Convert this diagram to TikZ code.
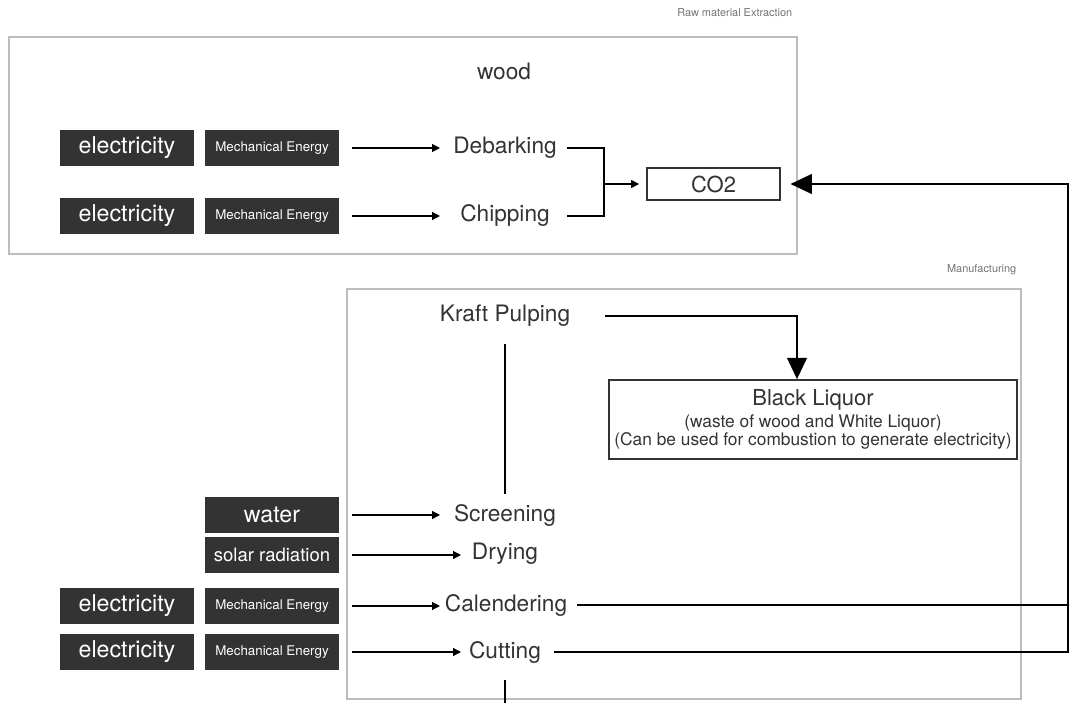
\documentclass[tikz,border=0pt]{standalone}
\usepackage{fontspec}
\setmainfont{TeX Gyre Heros}
\usepackage{xcolor}
\usetikzlibrary{arrows.meta,positioning}
\definecolor{ink}{HTML}{333333}
\definecolor{framegray}{HTML}{BDBDBD}

\begin{document}
\begin{tikzpicture}[
    x=0.75pt, y=-0.75pt,
    font=\fontsize{17}{19}\selectfont,
    text=ink,
    frame/.style={draw=framegray, line width=0.8pt},
    darkbox/.style={
        rectangle,
        fill=ink,
        text=white,
        minimum width=100.5pt,
        minimum height=27pt,
        inner sep=0pt
    },
    smallbox/.style={darkbox, font=\fontsize{10}{11}\selectfont},
    bigbox/.style={darkbox, font=\fontsize{17.4}{19}\selectfont},
    proc/.style={inner sep=0pt, font=\fontsize{17}{19}\selectfont},
    tag/.style={font=\fontsize{8.2}{9}\selectfont, text=black!55, anchor=east},
    result/.style={
        rectangle,
        draw=ink,
        line width=1.6pt,
        align=center,
        inner sep=0pt
    },
    line/.style={draw=black, line width=0.9pt},
    flow/.style={line, -{Triangle[length=6pt,width=6pt]}},
    bigflow/.style={line, -{Triangle[length=16pt,width=15pt]}}
]
\useasboundingbox (0,0) rectangle (1071,703);

% =========================================================
% Frames
% =========================================================
\draw[frame] (9,37) rectangle (797,254);
\draw[frame] (347,289) rectangle (1021,699);
\node[tag] (rawtag) at (797,13) {Raw material Extraction};
\node[tag] (mantag) at (1021,270) {Manufacturing};

% =========================================================
% Raw material extraction
% =========================================================
\node (wood) at (504,71) {wood};

\node[bigbox] (elec1) at (127,148) {electricity};
\node[smallbox] (mech1) at (272,148) {Mechanical Energy};
\node[bigbox] (elec2) at (127,216) {electricity};
\node[smallbox] (mech2) at (272,216) {Mechanical Energy};

\node[proc] (debark) at (505,148) {Debarking};
\node[proc] (chip) at (505,216) {Chipping};

\node[result, minimum width=100pt, minimum height=24pt,
      font=\fontsize{16.5}{18}\selectfont] (co2) at (713.5,184) {CO2};

% =========================================================
% Manufacturing
% =========================================================
\node[proc] (kraft) at (505,316) {Kraft Pulping};
\node[result, minimum width=306pt, minimum height=59pt] (liquor) at (813,419.5)
    {\fontsize{16.5}{17}\selectfont Black Liquor\\[-2pt]
     \fontsize{13}{13.5}\selectfont (waste of wood and White Liquor)\\[-5.5pt]
     \fontsize{13}{13.5}\selectfont (Can be used for combustion to generate electricity)};

\node[bigbox] (water) at (272,515) {water};
\node[darkbox, font=\fontsize{13.9}{15}\selectfont] (solar) at (272,555) {solar radiation};
\node[bigbox] (elec3) at (127,606) {electricity};
\node[smallbox] (mech3) at (272,606) {Mechanical Energy};
\node[bigbox] (elec4) at (127,652) {electricity};
\node[smallbox] (mech4) at (272,652) {Mechanical Energy};

\node[proc] (screen) at (505,515) {Screening};
\node[proc] (dry) at (505,554) {Drying};
\node[proc] (cal) at (506,605) {Calendering};
\node[proc] (cut) at (505,652) {Cutting};

% Helper coordinates
\coordinate (tipA) at (440,0);
\coordinate (tipB) at (461,0);
\coordinate (lstart) at (567,0);
\coordinate (merge) at (604,184);
\coordinate (kstart) at (605,0);
\coordinate (kdrop) at (797,0);
\coordinate (rbus) at (1068,184);
\coordinate (bottom) at (505,703);

% =========================================================
% Connectors
% =========================================================
\draw[flow, shorten <=9.75pt] (mech1.east) -- (mech1.east -| tipA);
\draw[flow, shorten <=9.75pt] (mech2.east) -- (mech2.east -| tipA);
\draw[line] (debark.east -| lstart) -| (merge);
\draw[line] (chip.east -| lstart) -| (merge);
\draw[flow, shorten >=5pt] (merge) -- (co2.west);

\draw[bigflow] (kraft.east -| kstart) -| (kdrop |- liquor.north);
\draw[line, shorten <=12.75pt, shorten >=7.5pt] (kraft.south) -- (screen.north);

\draw[flow, shorten <=9.75pt] (water.east) -- (water.east -| tipA);
\draw[flow, shorten <=9.75pt] (solar.east) -- (solar.east -| tipB);
\draw[flow, shorten <=9.75pt] (mech3.east) -- (mech3.east -| tipA);
\draw[flow, shorten <=9.75pt] (mech4.east) -- (mech4.east -| tipB);

\draw[line, shorten <=7.5pt] (cal.east) -- (cal.east -| rbus);
\draw[bigflow, shorten <=9.75pt, shorten >=7pt] (cut.east) -| (rbus) -- (co2.east);
\draw[line, shorten <=12.75pt] (cut.south) -- (bottom);

\end{tikzpicture}
\end{document}
